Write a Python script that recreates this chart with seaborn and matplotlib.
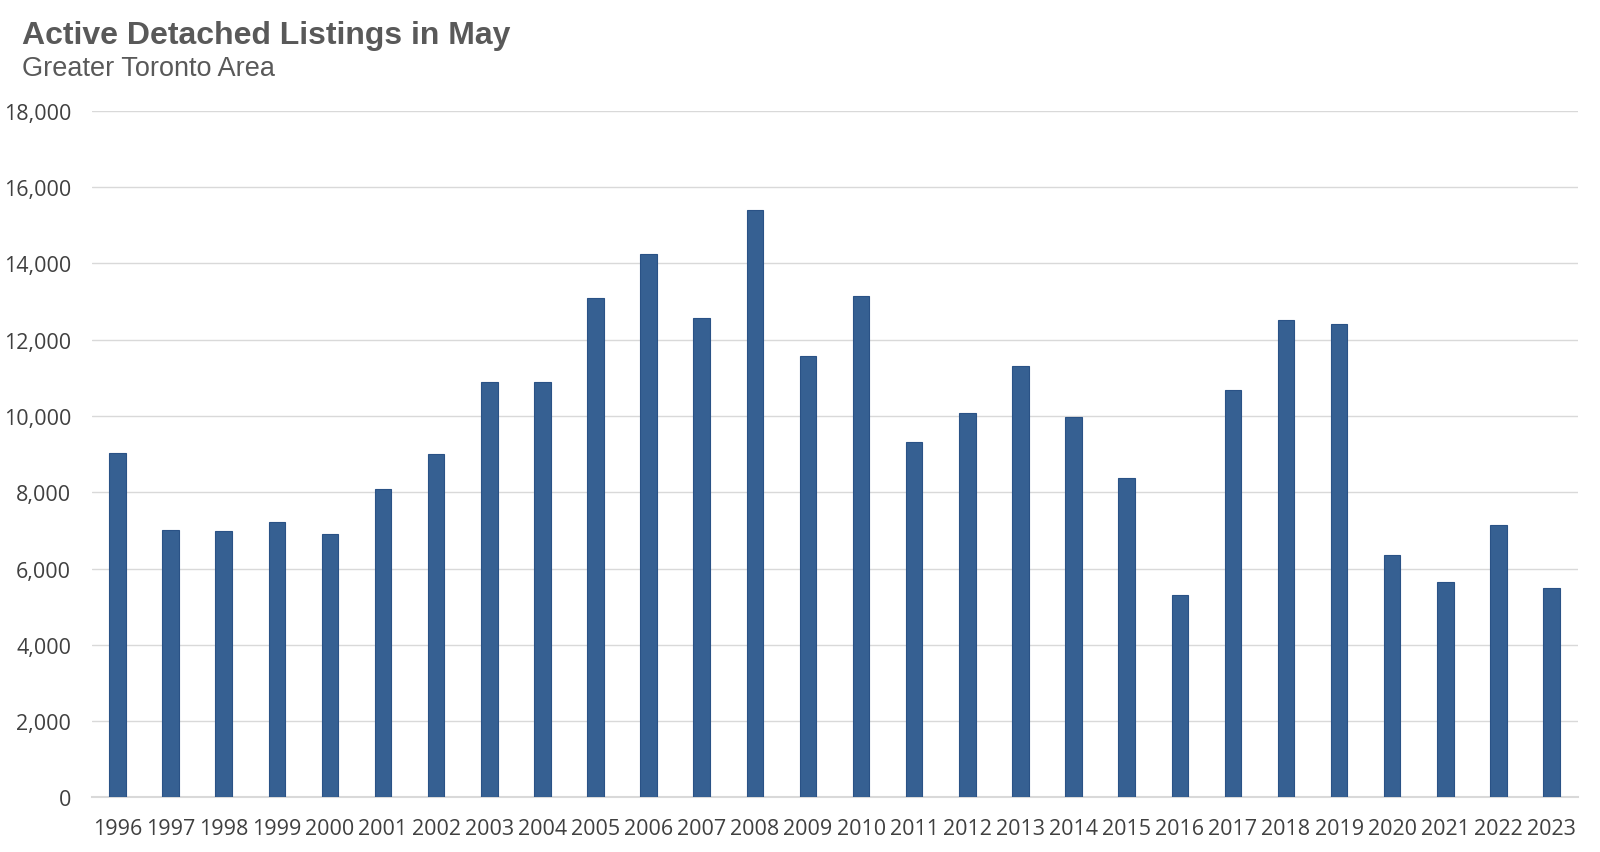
import matplotlib
matplotlib.use("Agg")
import matplotlib.pyplot as plt
import seaborn as sns
import pandas as pd
from matplotlib.ticker import FuncFormatter

years = [str(y) for y in range(1996, 2024)]
listings = [9030, 7020, 6990, 7210, 6910, 8090, 9000, 10880, 10900, 13100,
            14250, 12560, 15400, 11570, 13150, 9320, 10070, 11300, 9960, 8360,
            5300, 10690, 12510, 12400, 6350, 5650, 7130, 5490]

df = pd.DataFrame({"year": years, "listings": listings})

sns.set_theme(style="white")
plt.rcParams["font.family"] = ["Liberation Sans", "DejaVu Sans"]

fig = plt.figure(figsize=(16, 8.53), dpi=100)
ax = fig.add_axes([0.0575, 0.064, 0.9288, 0.805])

sns.barplot(data=df, x="year", y="listings", color="#366092", width=0.31,
            saturation=1, edgecolor="#2a5286", linewidth=0.8, ax=ax, zorder=3)

ax.set_ylim(0, 18000)
ax.set_yticks(range(0, 18001, 2000))
ax.yaxis.set_major_formatter(FuncFormatter(lambda v, p: f"{int(v):,}"))
ax.set_xlim(-0.48, 27.5)
ax.grid(axis="y", color="#d9d9d9", linewidth=1, zorder=0)
ax.set_xlabel("")
ax.set_ylabel("")
for s in ["top", "right", "left"]:
    ax.spines[s].set_visible(False)
ax.spines["bottom"].set_color("#d9d9d9")
ax.spines["bottom"].set_linewidth(1.5)
ax.tick_params(axis="both", length=0, labelsize=15.5, colors="#404040")
ax.tick_params(axis="x", pad=15)
ax.tick_params(axis="y", pad=15)
for lab in ax.get_yticklabels() + ax.get_xticklabels():
    lab.set_family(["Open Sans", "DejaVu Sans"])

fig.text(0.014, 0.958, "Active Detached Listings in May", fontsize=23,
         fontweight="bold", color="#595959", va="center")
fig.text(0.014, 0.919, "Greater Toronto Area", fontsize=19.5,
         color="#595959", va="center")

fig.savefig("out.png", dpi=100)
